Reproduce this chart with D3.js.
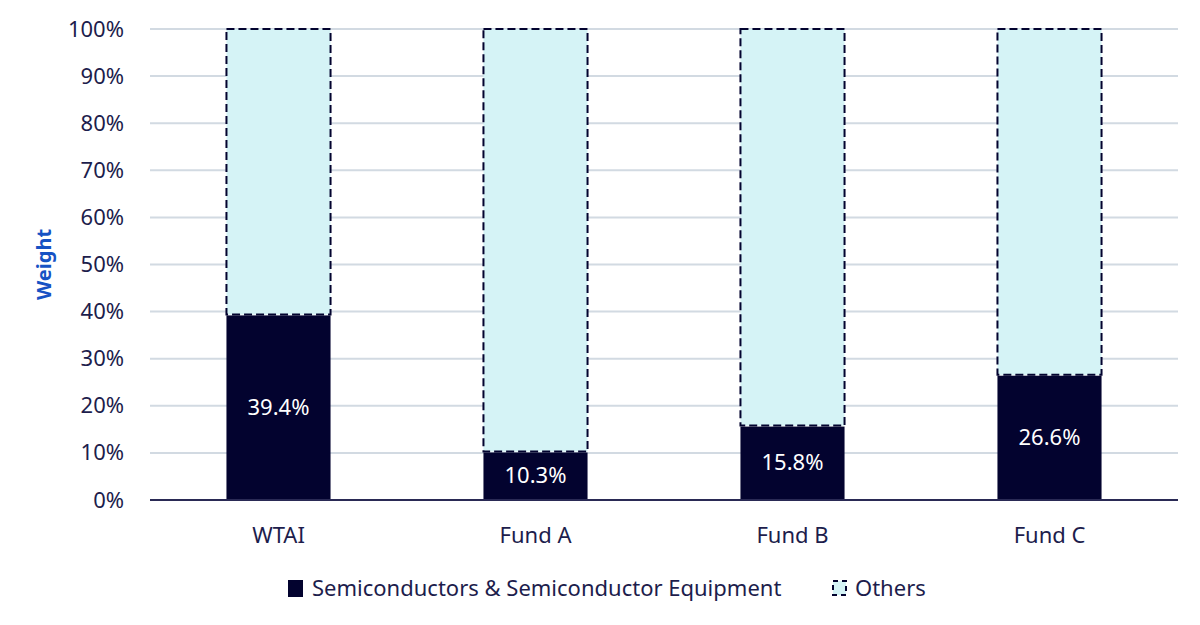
<!DOCTYPE html>
<html>
<head>
<meta charset="utf-8">
<script src="https://cdn.jsdelivr.net/npm/d3@7"></script>
<style>
  body { margin: 0; background: #fff; }
  text { font-family: "Noto Sans", sans-serif; }
</style>
</head>
<body>
<svg id="chart"></svg>
<script>
const categories = ['WTAI', 'Fund A', 'Fund B', 'Fund C'];
const semis = [39.4, 10.3, 15.8, 26.6];
const yTicks = [0, 10, 20, 30, 40, 50, 60, 70, 80, 90, 100];
const seriesNames = ['Semiconductors & Semiconductor Equipment', 'Others'];

const width = 1200, height = 625;
const margin = { top: 29, right: 22, bottom: 125, left: 150 };
const navy = '#03032f', light = '#d5f3f6', textCol = '#1d1d4c';
const fontSize = '22px';

const svg = d3.select('#chart').attr('width', width).attr('height', height);

const x = d3.scaleBand()
  .domain(categories)
  .range([margin.left, width - margin.right])
  .paddingInner(0.595)
  .paddingOuter(0.2975);

const y = d3.scaleLinear()
  .domain([0, 100])
  .range([height - margin.bottom, margin.top]);

// gridlines
svg.append('g')
  .selectAll('line')
  .data(yTicks.filter(d => d > 0))
  .enter()
  .append('line')
  .attr('x1', margin.left)
  .attr('x2', width - margin.right)
  .attr('y1', d => y(d))
  .attr('y2', d => y(d))
  .style('stroke', '#d2dae2')
  .style('stroke-width', 2);

// y axis labels
const yAxis = svg.append('g')
  .attr('transform', `translate(${margin.left - 26},0)`)
  .call(d3.axisLeft(y).tickValues(yTicks).tickFormat(d => d + '%').tickSize(0).tickPadding(0));
yAxis.select('.domain').remove();
yAxis.selectAll('text')
  .style('font-size', fontSize)
  .style('fill', textCol);

// y title
svg.append('text')
  .attr('transform', `translate(51, ${y(50)}) rotate(-90)`)
  .attr('text-anchor', 'middle')
  .style('font-size', '20px')
  .style('font-weight', 'bold')
  .style('fill', '#1652c4')
  .text('Weight');

// others (top, dashed)
svg.append('g')
  .selectAll('rect')
  .data(categories)
  .enter()
  .append('rect')
  .attr('x', d => x(d))
  .attr('width', x.bandwidth())
  .attr('y', y(100))
  .attr('height', (d, i) => y(semis[i]) - y(100))
  .style('fill', light)
  .style('stroke', navy)
  .style('stroke-width', 2)
  .style('stroke-dasharray', '8,4');

// semis (bottom, solid)
svg.append('g')
  .selectAll('rect')
  .data(categories)
  .enter()
  .append('rect')
  .attr('x', d => x(d))
  .attr('width', x.bandwidth())
  .attr('y', (d, i) => y(semis[i]) + 1)
  .attr('height', (d, i) => y(0) - y(semis[i]) - 1)
  .style('fill', navy);

// value labels
svg.append('g')
  .selectAll('text')
  .data(categories)
  .enter()
  .append('text')
  .attr('x', d => x(d) + x.bandwidth() / 2)
  .attr('y', (d, i) => (y(0) + y(semis[i])) / 2)
  .attr('dy', '0.35em')
  .attr('text-anchor', 'middle')
  .style('font-size', fontSize)
  .style('fill', '#ffffff')
  .text((d, i) => semis[i].toFixed(1) + '%');

// baseline
svg.append('line')
  .attr('x1', margin.left)
  .attr('x2', width - margin.right)
  .attr('y1', y(0))
  .attr('y2', y(0))
  .style('stroke', '#2a2a55')
  .style('stroke-width', 2);

// category labels
const xAxis = svg.append('g')
  .attr('transform', `translate(0,${y(0)})`)
  .call(d3.axisBottom(x).tickSize(0).tickPadding(27));
xAxis.select('.domain').remove();
xAxis.selectAll('text')
  .style('font-size', fontSize)
  .style('fill', textCol);

// legend
const legend = svg.append('g');
legend.append('rect')
  .attr('x', 288).attr('y', 580).attr('width', 15).attr('height', 17)
  .style('fill', navy);
legend.append('text')
  .attr('x', 312).attr('y', 588).attr('dy', '0.35em')
  .style('font-size', fontSize).style('fill', textCol)
  .text(seriesNames[0]);
legend.append('rect')
  .attr('x', 833).attr('y', 581).attr('width', 13).attr('height', 14)
  .style('fill', light)
  .style('stroke', navy)
  .style('stroke-width', 2)
  .style('stroke-dasharray', '5,4');
legend.append('text')
  .attr('x', 855).attr('y', 588).attr('dy', '0.35em')
  .style('font-size', fontSize).style('fill', textCol)
  .text(seriesNames[1]);
</script>
</body>
</html>
